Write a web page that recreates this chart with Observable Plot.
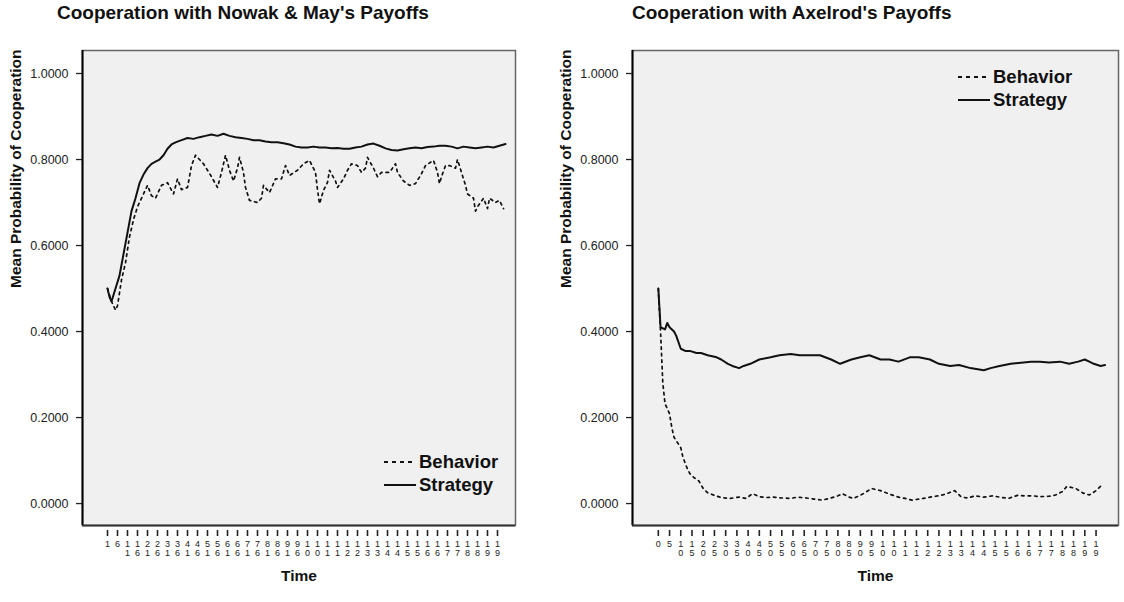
<!DOCTYPE html>
<html><head><meta charset="utf-8">
<script src="https://cdn.jsdelivr.net/npm/d3@7"></script>
<script src="https://cdn.jsdelivr.net/npm/@observablehq/plot@0.6"></script>
<style>
body{margin:0;background:#fff;font-family:"Liberation Sans",Arial,sans-serif;}
#wrap{position:relative;width:1124px;height:602px;overflow:hidden;}
.panel{position:absolute;top:0;}
.title{position:absolute;top:2px;font-weight:bold;font-size:19px;color:#111;white-space:nowrap;}
.legend{position:absolute;font-weight:bold;font-size:18.5px;color:#111;white-space:nowrap;}
.legend div{height:23px;line-height:23px;display:flex;align-items:center;}
.legend svg{margin-right:3px;}
</style></head>
<body><div id="wrap"></div>
<script>
// Titles
const titles = ["Cooperation with Nowak & May's Payoffs", "Cooperation with Axelrod's Payoffs"];
const seriesNames = ["Behavior", "Strategy"];
const yLabel = "Mean Probability of Cooperation";
const xLabel = "Time";

// Nowak & May panel
const nmStrategyTime = [1,2,3,5,7,9,11,13,15,17,19,21,23,25,27,29,31,33,35,38,41,44,47,50,53,56,59,62,65,68,71,74,77,80,83,86,89,92,95,98,101,104,107,110,113,116,119,122,125,128,131,134,137,140,143,146,149,152,155,158,161,164,167,170,173,176,179,182,185,188,191,194,197,200];
const nmStrategy = [0.50,0.48,0.47,0.50,0.53,0.58,0.63,0.68,0.71,0.745,0.765,0.78,0.79,0.795,0.80,0.81,0.825,0.835,0.84,0.845,0.85,0.848,0.852,0.855,0.858,0.855,0.86,0.855,0.852,0.85,0.848,0.845,0.845,0.842,0.84,0.84,0.838,0.835,0.83,0.828,0.828,0.83,0.828,0.828,0.826,0.827,0.825,0.825,0.828,0.83,0.835,0.837,0.832,0.826,0.822,0.821,0.824,0.826,0.828,0.826,0.829,0.83,0.832,0.832,0.83,0.826,0.83,0.828,0.826,0.828,0.83,0.828,0.832,0.836];
const nmBehaviorTime = [1,3,5,6,8,10,12,14,16,19,21,23,25,28,31,34,36,38,41,42,43,45,47,49,51,53,56,58,60,62,64,66,67,69,70,72,76,78,79,82,85,88,90,92,96,99,102,105,106,107,109,111,112,115,116,119,121,123,126,128,130,131,134,136,138,142,145,146,149,152,155,158,160,164,166,167,168,170,172,175,176,178,180,181,184,185,186,189,191,192,195,197,199];
const nmBehavior = [0.50,0.47,0.45,0.46,0.52,0.56,0.62,0.66,0.69,0.72,0.74,0.716,0.71,0.74,0.746,0.72,0.755,0.73,0.735,0.76,0.786,0.81,0.80,0.79,0.775,0.76,0.735,0.77,0.81,0.775,0.75,0.78,0.805,0.77,0.735,0.705,0.70,0.71,0.74,0.723,0.755,0.755,0.786,0.763,0.775,0.79,0.798,0.77,0.73,0.697,0.728,0.747,0.775,0.75,0.735,0.755,0.775,0.79,0.786,0.77,0.78,0.805,0.78,0.76,0.77,0.77,0.79,0.77,0.75,0.74,0.744,0.767,0.786,0.798,0.77,0.744,0.76,0.786,0.786,0.78,0.80,0.77,0.74,0.72,0.71,0.68,0.69,0.71,0.686,0.71,0.70,0.705,0.686];

// Axelrod panel
const axStrategyTime = [0,1,3,4,5,7,8,10,12,14,17,19,22,26,28,31,33,36,38,41,45,50,54,59,63,68,72,77,81,86,90,94,99,103,107,112,116,121,125,130,134,139,145,148,152,157,166,170,174,179,183,187,190,192,194,197,199];
const axStrategy = [0.50,0.41,0.405,0.42,0.41,0.40,0.39,0.36,0.355,0.355,0.35,0.35,0.345,0.34,0.335,0.325,0.32,0.315,0.32,0.325,0.335,0.34,0.345,0.348,0.345,0.345,0.345,0.335,0.325,0.335,0.34,0.345,0.335,0.335,0.33,0.34,0.34,0.335,0.325,0.32,0.322,0.315,0.31,0.315,0.32,0.325,0.33,0.33,0.328,0.33,0.325,0.33,0.335,0.33,0.325,0.32,0.322];
const axBehaviorTime = [0,1,2,3,5,6,7,10,11,13,14,16,18,20,22,25,28,32,36,39,42,45,48,51,55,59,62,66,70,73,77,80,82,85,87,91,95,99,103,107,110,113,118,122,125,128,132,135,138,141,145,149,152,156,160,163,167,170,174,177,180,182,186,189,192,195,197];
const axBehavior = [0.50,0.40,0.28,0.232,0.209,0.177,0.154,0.13,0.107,0.08,0.07,0.06,0.053,0.035,0.025,0.019,0.014,0.012,0.015,0.012,0.023,0.016,0.014,0.015,0.013,0.012,0.015,0.013,0.01,0.008,0.013,0.018,0.023,0.015,0.012,0.022,0.035,0.03,0.022,0.015,0.012,0.008,0.012,0.016,0.018,0.022,0.03,0.015,0.013,0.018,0.015,0.018,0.015,0.012,0.019,0.018,0.018,0.016,0.017,0.02,0.028,0.04,0.035,0.025,0.02,0.03,0.04];

// Axis ticks
const nmTicks = d3.range(1, 200, 5);
const axTicks = d3.range(0, 200, 5);
const yTicks = [0, 0.2, 0.4, 0.6, 0.8, 1.0];

const xDomain = [-11.5, 205];
const yDomain = [-0.051, 1.0535];

const zip = (ts, vs) => ts.map((t, i) => ({t, v: vs[i]}));
// SPSS-style stacked digits, truncated to two rows
const stack = n => String(n).slice(0, 2).split("").join("\n");

function panel({strategy, behavior, ticks, width, marginLeft, marginRight, yLabelDx}) {
  return Plot.plot({
    width, height: 602,
    marginLeft, marginRight, marginTop: 50, marginBottom: 77,
    x: {domain: xDomain},
    y: {domain: yDomain},
    style: {fontFamily: "Liberation Sans, Arial, sans-serif", background: "transparent", color: "#222"},
    marks: [
      Plot.frame({fill: "#f0f0f0", stroke: "#666", strokeWidth: 1.5}),
      Plot.ruleX([xDomain[0]], {stroke: "#000", strokeWidth: 2}),
      Plot.ruleY([yDomain[0]], {stroke: "#333", strokeWidth: 2}),
      Plot.axisY({ticks: yTicks, tickFormat: d3.format(".4f"), tickSize: 6, tickPadding: 8, fontSize: 12.5, label: null, strokeWidth: 1.3}),
      Plot.axisX({ticks, tickFormat: stack, tickSize: 6, dy: 5, tickPadding: 3, fontSize: 9, lineHeight: 1.1, label: null, strokeWidth: 1.6}),
      Plot.line(behavior, {x: "t", y: "v", stroke: "#111", strokeWidth: 1.7, strokeDasharray: "2.5,4"}),
      Plot.line(strategy, {x: "t", y: "v", stroke: "#111", strokeWidth: 2}),
      Plot.text([xLabel], {frameAnchor: "bottom", dy: 55, fontWeight: "bold", fontSize: 15.5, fill: "#111"}),
      Plot.text([yLabel], {frameAnchor: "left", rotate: -90, dx: yLabelDx, fontWeight: "bold", fontSize: 15.5, fill: "#111"})
    ]
  });
}

const wrap = document.getElementById("wrap");

function addPanel(left, svg, title, titleLeft) {
  const d = document.createElement("div");
  d.className = "panel";
  d.style.left = left + "px";
  d.appendChild(svg);
  wrap.appendChild(d);
  const t = document.createElement("div");
  t.className = "title";
  t.style.left = titleLeft + "px";
  t.textContent = title;
  wrap.appendChild(t);
}

function addLegend(left, top) {
  const lg = document.createElement("div");
  lg.className = "legend";
  lg.style.left = left + "px";
  lg.style.top = top + "px";
  const dashes = ["4,4", null];
  seriesNames.forEach((name, i) => {
    const row = document.createElement("div");
    const dash = dashes[i] ? ` stroke-dasharray="${dashes[i]}"` : "";
    row.innerHTML = `<svg width="32" height="10"><line x1="0" x2="32" y1="5" y2="5" stroke="#111" stroke-width="2"${dash}/></svg><span>${name}</span>`;
    lg.appendChild(row);
  });
  wrap.appendChild(lg);
}

addPanel(0, panel({strategy: zip(nmStrategyTime, nmStrategy), behavior: zip(nmBehaviorTime, nmBehavior), ticks: nmTicks, width: 540, marginLeft: 82, marginRight: 25, yLabelDx: -66}), titles[0], 57);
addPanel(540, panel({strategy: zip(axStrategyTime, axStrategy), behavior: zip(axBehaviorTime, axBehavior), ticks: axTicks, width: 584, marginLeft: 92, marginRight: 6, yLabelDx: -66}), titles[1], 632);
addLegend(384, 450);
addLegend(958, 65);
</script></body></html>
